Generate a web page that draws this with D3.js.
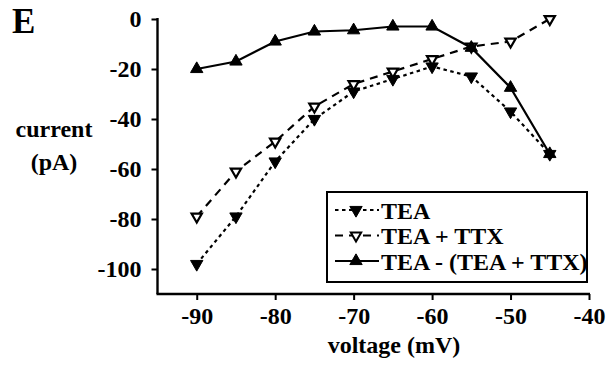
<!DOCTYPE html>
<html>
<head>
<meta charset="utf-8">
<script src="https://cdnjs.cloudflare.com/ajax/libs/d3/7.8.5/d3.min.js"></script>
<style>
  html, body { margin: 0; padding: 0; background: #fff; }
  svg { display: block; }
</style>
</head>
<body>
<svg id="chart" width="611" height="372"></svg>
<script>
// Holding potentials (mV)
const voltages = [-90, -85, -80, -75, -70, -65, -60, -55, -50, -45];
// Currents (pA)
const tea        = [-98, -79, -57, -40, -29, -24, -19, -23, -37, -54];
const teaTtx     = [-79, -61, -49, -35, -26, -21, -16, -11, -9, 0];
const difference = [-20, -17, -9, -5, -4.5, -3, -3, -11.5, -27.5, -54];

const xTicks = [-90, -80, -70, -60, -50, -40];
const yTicks = [0, -20, -40, -60, -80, -100];

const seriesNames = ["TEA", "TEA + TTX", "TEA - (TEA + TTX)"];

const FONT = "Liberation Serif";

const svg = d3.select("#chart");
const x = d3.scaleLinear().domain([-95, -40]).range([157.5, 589]);
const y = d3.scaleLinear().domain([-110, 0]).range([294, 19]);

function styleText(sel, size) {
  return sel.attr("font-family", FONT).attr("font-weight", "bold")
    .attr("font-size", size).attr("fill", "#000");
}

// Axes
const xAxis = d3.axisBottom(x).tickValues(xTicks).tickSize(6).tickPadding(7).tickFormat(d => String(d));
const yAxis = d3.axisLeft(y).tickValues(yTicks).tickSize(6).tickPadding(10).tickFormat(d => String(d));

const gx = svg.append("g").attr("transform", `translate(0,${y(-110)})`).call(xAxis);
const gy = svg.append("g").attr("transform", `translate(${x(-95)},0)`).call(yAxis);
[gx, gy].forEach(g => {
  g.select(".domain").remove();
  g.selectAll(".tick line").attr("stroke", "#000").attr("stroke-width", 2);
  styleText(g.selectAll(".tick text"), 24);
});
svg.append("line").attr("x1", x(-95) - 1).attr("x2", x(-40) + 1).attr("y1", y(-110)).attr("y2", y(-110))
  .attr("stroke", "#000").attr("stroke-width", 2.4);
svg.append("line").attr("x1", x(-95)).attr("x2", x(-95)).attr("y1", y(0) - 1).attr("y2", y(-110))
  .attr("stroke", "#000").attr("stroke-width", 2.4);

// Titles
styleText(svg.append("text").attr("x", 12).attr("y", 33).text("E"), 35);
styleText(svg.append("text").attr("x", 54).attr("y", 137).attr("text-anchor", "middle").text("current"), 24);
styleText(svg.append("text").attr("x", 54).attr("y", 170).attr("text-anchor", "middle").text("(pA)"), 24);
styleText(svg.append("text").attr("x", 394).attr("y", 353).attr("text-anchor", "middle").text("voltage (mV)"), 24);

// Series
const series = [
  { name: seriesNames[0], values: tea,        dash: "3.5,3.5", fill: "#000", down: true },
  { name: seriesNames[1], values: teaTtx,     dash: "8,6",     fill: "#fff", down: true },
  { name: seriesNames[2], values: difference, dash: null,      fill: "#000", down: false }
];

const line = d3.line().x(d => x(d[0])).y(d => y(d[1]));
const triFilled = d3.symbol(d3.symbolTriangle, 66);
const triOpen = d3.symbol(d3.symbolTriangle, 46);

series.forEach(s => {
  const pts = voltages.map((v, i) => [v, s.values[i]]);
  svg.append("path").datum(pts).attr("d", line)
    .attr("fill", "none").attr("stroke", "#000").attr("stroke-width", 2.2)
    .attr("stroke-dasharray", s.dash);
  svg.append("g").selectAll("path").data(pts).join("path")
    .attr("d", s.fill === "#fff" ? triOpen : triFilled)
    .attr("transform", d => `translate(${x(d[0])},${y(d[1])}) rotate(${s.down ? 180 : 0})`)
    .attr("fill", s.fill).attr("stroke", "#000").attr("stroke-width", s.fill === "#fff" ? 2.2 : 1);
});

// Legend
const legend = svg.append("g");
legend.append("rect").attr("x", 327).attr("y", 192).attr("width", 260).attr("height", 90)
  .attr("fill", "#fff").attr("stroke", "#000").attr("stroke-width", 2);
series.forEach((s, i) => {
  const ly = 210 + i * 25.5;
  legend.append("line").attr("x1", 335).attr("x2", 379).attr("y1", ly).attr("y2", ly)
    .attr("stroke", "#000").attr("stroke-width", 2).attr("stroke-dasharray", s.dash);
  legend.append("path").attr("d", s.fill === "#fff" ? triOpen : triFilled)
    .attr("transform", `translate(356,${ly}) rotate(${s.down ? 180 : 0})`)
    .attr("fill", s.fill).attr("stroke", "#000").attr("stroke-width", s.fill === "#fff" ? 2 : 1);
  styleText(legend.append("text").attr("x", 381).attr("y", ly + 8.5).text(s.name), 24);
});
</script>
</body>
</html>
